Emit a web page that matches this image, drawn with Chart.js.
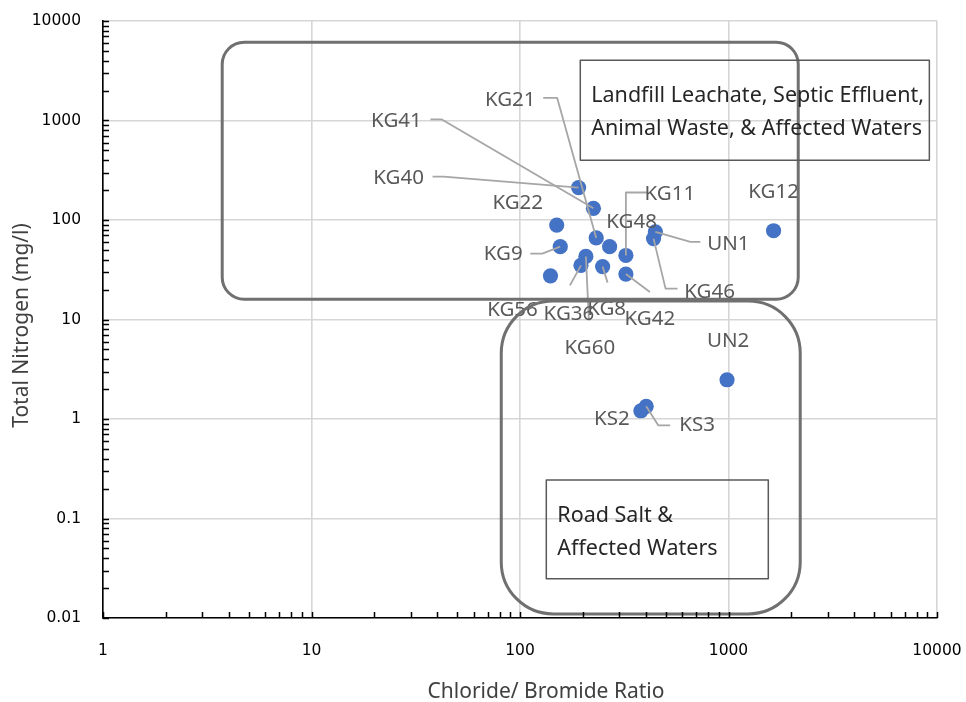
<!DOCTYPE html>
<html>
<head>
<meta charset="utf-8">
<script src="https://cdn.jsdelivr.net/npm/chart.js@4/dist/chart.umd.min.js"></script>
<style>
  html, body { margin: 0; padding: 0; background: #ffffff; }
  canvas { display: block; }
</style>
</head>
<body>
<canvas id="chart" width="966" height="702"></canvas>
<script>
// Sample identifiers and measured values
const sampleIds = ['KG40', 'KG41', 'KG22', 'KG21', 'KG9', 'KG48', 'KG11', 'KG60', 'KG36',
                   'KG8', 'KG42', 'KG56', 'UN1', 'KG46', 'KG12', 'UN2', 'KS3', 'KS2'];
const chlorideBromide = [191, 225, 150, 232, 156, 269, 322, 207, 196,
                         249, 322, 140, 446, 437, 1645, 984, 403, 380];
const totalNitrogen = [212, 131, 89, 66, 54, 54, 44, 43, 35,
                       34, 28.6, 27.5, 76, 65, 78, 2.48, 1.34, 1.21];

// Axis tick labels (decades only)
const xTickLabels = ['1', '10', '100', '1000', '10000'];
const yTickLabels = ['0.01', '0.1', '1', '10', '100', '1000', '10000'];

// Source-group annotations
const groupTitles = [
  ['Landfill Leachate, Septic Effluent,', 'Animal Waste, & Affected Waters'],
  ['Road Salt &', 'Affected Waters']
];
const axisTitles = { x: 'Chloride/ Bromide Ratio', y: 'Total Nitrogen (mg/l)' };

// ---- layout (pixel offsets from each point, region extents in axis units) ----
const labelLayout = {
  KG40: { dx: -180, dy: -11, leader: [[-135, -11], [-146, -11]] },
  KG41: { dx: -197, dy: -89, leader: [[-152, -89], [-163, -89]] },
  KG22: { dx: -39, dy: -24 },
  KG21: { dx: -86, dy: -140, leader: [[-39, -140], [-53, -140]] },
  KG9:  { dx: -57, dy: 6, leader: [[-18, 7], [-30, 7]] },
  KG48: { dx: 22, dy: -26 },
  KG11: { dx: 44, dy: -63, leader: [[0, -63], [21, -63]] },
  KG60: { dx: 4, dy: 90, leader: [[3, 64]] },
  KG36: { dx: -12, dy: 47, leader: [[-11, 20]] },
  KG8:  { dx: 4, dy: 41, leader: [[5, 16]] },
  KG42: { dx: 24, dy: 43, leader: [[24, 18]] },
  KG56: { dx: -38, dy: 32 },
  UN1:  { dx: 73, dy: 10, leader: [[35, 10], [45, 10]] },
  KG46: { dx: 56, dy: 52, leader: [[12, 50], [24, 50]] },
  KG12: { dx: 0, dy: -41 },
  UN2:  { dx: 1, dy: -41 },
  KS3:  { dx: 51, dy: 17, leader: [[12, 19], [24, 19]] },
  KS2:  { dx: -29, dy: 6 }
};
const LABEL_SHIFT = 2;   // optical centring of the label text

const regionLayout = [
  { x0: 3.73, x1: 2160, y0: 6100, y1: 16.0, radius: 22 },
  { x0: 81.3, x1: 2208, y0: 15.3, y1: 0.0110, radius: 52 }
];
const captionLayout = [
  { x0: 194.6, x1: 9190, y0: 4022, y1: 398 },
  { x0: 133.7, x1: 1552, y0: 0.244, y1: 0.0248 }
];

function decadeTicks(minExp, maxExp) {
  const out = [];
  for (let e = minExp; e <= maxExp; e++) {
    const base = Math.pow(10, e);
    const top = e === maxExp ? 1 : 9;
    for (let m = 1; m <= top; m++) out.push({ value: +(m * base).toPrecision(6), major: m === 1 });
  }
  return out;
}
function isDecade(v) {
  const l = Math.log10(v);
  return Math.abs(l - Math.round(l)) < 1e-9;
}

function roundRectPath(ctx, x, y, w, h, r) {
  ctx.beginPath();
  ctx.moveTo(x + r, y);
  ctx.arcTo(x + w, y, x + w, y + h, r);
  ctx.arcTo(x + w, y + h, x, y + h, r);
  ctx.arcTo(x, y + h, x, y, r);
  ctx.arcTo(x, y, x + w, y, r);
  ctx.closePath();
}

const LABEL_FONT = '"Noto Sans", "Open Sans", sans-serif';

const overlay = {
  id: 'overlay',
  afterDatasetsDraw(chart) {
    const { ctx, chartArea, scales: { x, y } } = chart;
    const meta = chart.getDatasetMeta(0);
    ctx.save();

    // leader lines
    ctx.strokeStyle = '#a6a6a6';
    ctx.lineWidth = 1.8;
    ctx.lineJoin = 'round';
    meta.data.forEach((pt, i) => {
      const L = labelLayout[sampleIds[i]];
      if (!L || !L.leader) return;
      ctx.beginPath();
      ctx.moveTo(pt.x, pt.y);
      L.leader.forEach(([dx, dy]) => ctx.lineTo(pt.x + dx, pt.y + dy));
      ctx.stroke();
    });

    // point labels
    ctx.font = '20.5px ' + LABEL_FONT;
    ctx.fillStyle = '#595959';
    ctx.textAlign = 'center';
    ctx.textBaseline = 'middle';
    meta.data.forEach((pt, i) => {
      const L = labelLayout[sampleIds[i]];
      ctx.fillText(sampleIds[i], pt.x + L.dx, pt.y + L.dy + LABEL_SHIFT);
    });

    // rounded source regions
    ctx.strokeStyle = '#707070';
    ctx.lineWidth = 3;
    regionLayout.forEach(r => {
      const px0 = x.getPixelForValue(r.x0), px1 = x.getPixelForValue(r.x1);
      const py0 = y.getPixelForValue(r.y0), py1 = y.getPixelForValue(r.y1);
      roundRectPath(ctx, px0, py0, px1 - px0, py1 - py0, r.radius);
      ctx.stroke();
    });

    // caption boxes
    ctx.strokeStyle = '#595959';
    ctx.lineWidth = 1.5;
    ctx.font = '21.5px ' + LABEL_FONT;
    ctx.fillStyle = '#262626';
    ctx.textAlign = 'left';
    captionLayout.forEach((c, i) => {
      const px0 = x.getPixelForValue(c.x0), px1 = x.getPixelForValue(c.x1);
      const py0 = y.getPixelForValue(c.y0), py1 = y.getPixelForValue(c.y1);
      ctx.strokeRect(px0, py0, px1 - px0, py1 - py0);
      groupTitles[i].forEach((line, k) => {
        ctx.fillText(line, px0 + 11, py0 + 36 + k * 33);
      });
    });

    // inward tick marks
    ctx.strokeStyle = '#000000';
    ctx.lineWidth = 1.5;
    ctx.beginPath();
    x.ticks.forEach(t => {
      const px = Math.round(x.getPixelForValue(t.value)) + 0.5;
      ctx.moveTo(px, chartArea.bottom);
      ctx.lineTo(px, chartArea.bottom - 6);
    });
    y.ticks.forEach(t => {
      const py = Math.round(y.getPixelForValue(t.value)) + 0.5;
      ctx.moveTo(chartArea.left, py);
      ctx.lineTo(chartArea.left + 6, py);
    });
    ctx.stroke();

    // axis titles
    ctx.fillStyle = '#404040';
    ctx.font = '21px ' + LABEL_FONT;
    ctx.textAlign = 'center';
    ctx.textBaseline = 'middle';
    ctx.fillText(axisTitles.x, (chartArea.left + chartArea.right) / 2 + 26, 692);
    ctx.translate(22, (chartArea.top + chartArea.bottom) / 2 + 6);
    ctx.rotate(-Math.PI / 2);
    ctx.fillText(axisTitles.y, 0, 0);

    ctx.restore();
  }
};

const tickFont = { family: '"DejaVu Sans", Verdana, sans-serif', size: 15.5 };

new Chart(document.getElementById('chart'), {
  type: 'scatter',
  data: {
    datasets: [{
      label: 'Samples',
      data: chlorideBromide.map((v, i) => ({ x: v, y: totalNitrogen[i] })),
      backgroundColor: '#4472c4',
      borderWidth: 0,
      pointRadius: 7.6,
      pointHoverRadius: 7.6
    }]
  },
  options: {
    responsive: false,
    animation: false,
    events: [],
    layout: { padding: { top: 21, right: 29, left: 0, bottom: 0 } },
    plugins: { legend: { display: false }, tooltip: { enabled: false } },
    scales: {
      x: {
        type: 'logarithmic',
        min: 1, max: 10000,
        afterBuildTicks: s => { s.ticks = decadeTicks(0, 4); },
        afterFit: s => { s.height = 84; s.paddingLeft = 0; s.paddingRight = 0; },
        ticks: {
          autoSkip: false, maxRotation: 0, padding: 24,
          color: '#000000', font: tickFont,
          callback: v => isDecade(v) ? xTickLabels[Math.round(Math.log10(v))] : ''
        },
        grid: {
          drawTicks: false,
          lineWidth: 1.6,
          color: c => (c.tick && isDecade(c.tick.value)) ? '#d6d6d6' : 'rgba(0,0,0,0)'
        },
        border: { color: '#000000', width: 1.6 }
      },
      y: {
        type: 'logarithmic',
        min: 0.01, max: 10000,
        afterBuildTicks: s => { s.ticks = decadeTicks(-2, 4); },
        afterFit: s => { s.width = 103; s.paddingTop = 0; s.paddingBottom = 0; },
        ticks: {
          autoSkip: false, padding: 22,
          color: '#000000', font: tickFont,
          callback: v => isDecade(v) ? yTickLabels[Math.round(Math.log10(v)) + 2] : ''
        },
        grid: {
          drawTicks: false,
          lineWidth: 1.6,
          color: c => (c.tick && isDecade(c.tick.value)) ? '#d6d6d6' : 'rgba(0,0,0,0)'
        },
        border: { color: '#000000', width: 1.6 }
      }
    }
  },
  plugins: [overlay]
});
</script>
</body>
</html>
